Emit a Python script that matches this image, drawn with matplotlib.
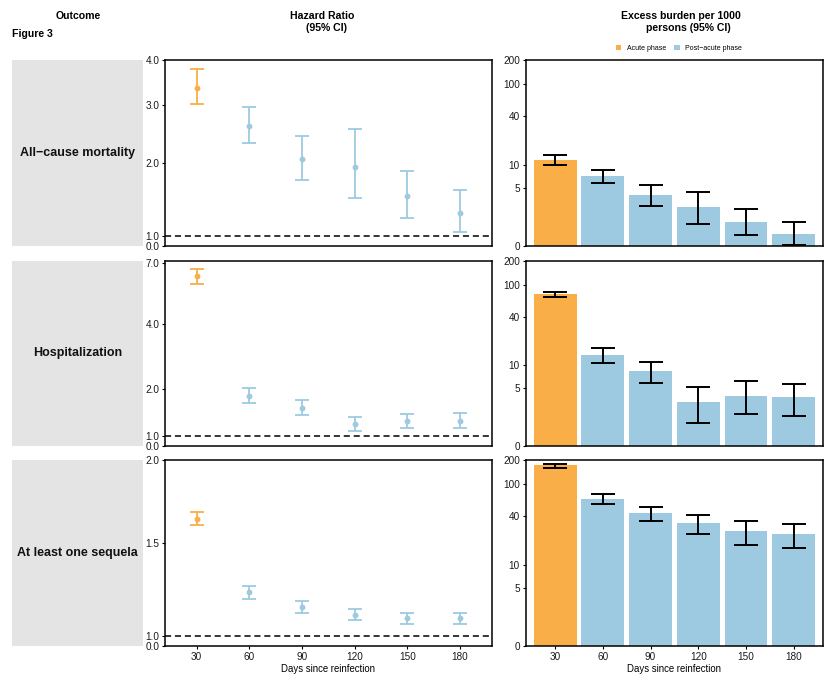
import numpy as np
import matplotlib
matplotlib.use('Agg')
import matplotlib.pyplot as plt
from matplotlib.patches import Patch

plt.rcParams['font.family'] = ['Liberation Sans', 'DejaVu Sans']

days = [30, 60, 90, 120, 150, 180]
day_labels = ['30', '60', '90', '120', '150', '180']
outcomes = ['All\u2212cause mortality', 'Hospitalization', 'At least one sequela']
phase_names = ['Acute phase', 'Post\u2212acute phase']

# hazard ratios (point, lower, upper)
hr_mortality = [3.36, 2.62, 2.05, 1.94, 1.52, 1.28]
hr_mortality_lo = [3.03, 2.32, 1.74, 1.48, 1.22, 1.04]
hr_mortality_hi = [3.78, 2.97, 2.43, 2.55, 1.88, 1.59]

hr_hosp = [6.24, 1.85, 1.57, 1.24, 1.29, 1.29]
hr_hosp_lo = [5.81, 1.68, 1.42, 1.10, 1.15, 1.15]
hr_hosp_hi = [6.63, 2.03, 1.75, 1.37, 1.44, 1.46]

hr_seq = [1.64, 1.23, 1.15, 1.11, 1.09, 1.09]
hr_seq_lo = [1.60, 1.19, 1.12, 1.08, 1.06, 1.06]
hr_seq_hi = [1.68, 1.26, 1.18, 1.14, 1.12, 1.12]

# excess burden per 1000 persons
eb_mortality = [11.4, 7.1, 4.0, 2.66, 1.46, 0.68]
eb_mortality_lo = [9.8, 5.8, 2.8, 1.34, 0.62, 0.06]
eb_mortality_hi = [13.3, 8.6, 5.5, 4.37, 2.5, 1.44]

eb_hosp = [76.6, 13.4, 8.35, 3.2, 3.98, 3.78]
eb_hosp_lo = [70.9, 10.6, 5.9, 1.43, 2.1, 1.93]
eb_hosp_hi = [82.5, 16.3, 11.05, 5.17, 6.2, 5.77]

eb_seq = [171.9, 66.3, 43.9, 33.4, 26.3, 24.1]
eb_seq_lo = [159.2, 57.5, 35.0, 24.4, 17.6, 16.3]
eb_seq_hi = [178.5, 75.7, 52.2, 42.0, 35.0, 32.5]

hr_tops = [4.0, 7.15, 2.0]
hr_ticks = [[0, 1, 2, 3, 4], [0, 1, 2, 4, 7], [0, 1, 1.5, 2]]
eb_ticks = [0, 5, 10, 40, 100, 200]

hr_rows = [(hr_mortality, hr_mortality_lo, hr_mortality_hi),
           (hr_hosp, hr_hosp_lo, hr_hosp_hi),
           (hr_seq, hr_seq_lo, hr_seq_hi)]
eb_rows = [(eb_mortality, eb_mortality_lo, eb_mortality_hi),
           (eb_hosp, eb_hosp_lo, eb_hosp_hi),
           (eb_seq, eb_seq_lo, eb_seq_hi)]

ORANGE = '#F9AE48'
BLUE = '#9ECAE1'
colors = [ORANGE] + [BLUE] * 5

W, H = 828, 684
rows_px = [(60, 245.7), (260.7, 446), (460, 646)]


def box(x0, x1, y0, y1):
    return [x0 / W, 1 - y1 / H, (x1 - x0) / W, (y1 - y0) / H]


def hr_scale(top, gap=0.057):
    # pseudo-log above 1, squeezed linear stretch down to 0
    f1 = np.arcsinh(0.5)
    g = gap * (np.arcsinh(top / 2) - f1)

    def fwd(y):
        y = np.asarray(y, float)
        return np.where(y >= 1, np.arcsinh(np.maximum(y, 1e-9) / 2), f1 - (1 - y) * g)

    def inv(t):
        t = np.asarray(t, float)
        return np.where(t >= f1, 2 * np.sinh(t), 1 - (f1 - t) / g)
    return fwd, inv


def eb_fwd(y):
    return np.arcsinh(np.asarray(y, float) / 2)


def eb_inv(t):
    return 2 * np.sinh(np.asarray(t, float))


def style(ax):
    for s in ax.spines.values():
        s.set_linewidth(1.1)
        s.set_color('black')
    ax.tick_params(length=2.5, width=0.8, labelsize=7.2, pad=1.5,
                   colors='black', labelcolor='#1a1a1a')


fig = plt.figure(figsize=(W / 100, H / 100), dpi=100)

for i in range(3):
    y0, y1 = rows_px[i]

    # strip
    sa = fig.add_axes(box(12, 143.3, y0, y1))
    sa.set_facecolor('#e4e4e4')
    sa.set_xticks([])
    sa.set_yticks([])
    for s in sa.spines.values():
        s.set_visible(False)
    sa.text(0.5, 0.5, outcomes[i], ha='center', va='center', fontsize=9,
            fontweight='bold', color='#111111', transform=sa.transAxes)

    # hazard ratio
    ax = fig.add_axes(box(165, 491.7, y0, y1))
    fwd, inv = hr_scale(hr_tops[i])
    ax.set_yscale('function', functions=(fwd, inv))
    val, lo, hi = hr_rows[i]
    for d, v, l, h, c in zip(days, val, lo, hi, colors):
        ax.errorbar([d], [v], yerr=[[v - l], [h - v]], fmt='o', color=c,
                    ms=3.2, elinewidth=1.3, capsize=5.3, capthick=1.3)
    ax.axhline(1, color='black', lw=1.1, ls=(0, (4, 2.5)))
    ax.set_ylim(0, hr_tops[i])
    ax.set_xlim(12, 198)
    ax.set_yticks(hr_ticks[i])
    ax.set_yticklabels(['%.1f' % t for t in hr_ticks[i]])
    style(ax)
    if i == 2:
        ax.set_xticks(days)
        ax.set_xticklabels(day_labels)
        ax.set_xlabel('Days since reinfection', fontsize=6.9, labelpad=1.5)
    else:
        ax.set_xticks([])

    # excess burden
    bx = fig.add_axes(box(525.5, 823.3, y0, y1))
    bx.set_yscale('function', functions=(eb_fwd, eb_inv))
    val, lo, hi = eb_rows[i]
    xs = np.arange(len(days))
    bx.bar(xs, val, width=0.9, color=colors)
    bx.errorbar(xs, val, yerr=[np.array(val) - np.array(lo), np.array(hi) - np.array(val)],
                fmt='none', ecolor='black', elinewidth=1.4, capsize=8.9, capthick=1.4)
    bx.set_ylim(0, 200)
    bx.set_xlim(-0.62, 5.62)
    bx.set_yticks(eb_ticks)
    bx.set_yticklabels([str(t) for t in eb_ticks])
    style(bx)
    if i == 2:
        bx.set_xticks(xs)
        bx.set_xticklabels(day_labels)
        bx.set_xlabel('Days since reinfection', fontsize=6.9, labelpad=1.5)
    else:
        bx.set_xticks([])

# headers
fig.text(78 / W, 1 - 16 / H, 'Outcome', ha='center', va='center', fontsize=7.6, fontweight='bold')
fig.text(11.7 / W, 1 - 34 / H, 'Figure 3', ha='left', va='center', fontsize=7.6, fontweight='bold')
fig.text(321.7 / W, 1 - 16 / H, 'Hazard Ratio', ha='center', va='center', fontsize=7.6, fontweight='bold')
fig.text(326 / W, 1 - 28 / H, '(95% CI)', ha='center', va='center', fontsize=7.6, fontweight='bold')
fig.text(681 / W, 1 - 16 / H, 'Excess burden per 1000', ha='center', va='center', fontsize=7.6, fontweight='bold')
fig.text(688 / W, 1 - 28 / H, 'persons (95% CI)', ha='center', va='center', fontsize=7.6, fontweight='bold')

handles = [Patch(facecolor=ORANGE, label=phase_names[0]),
           Patch(facecolor=BLUE, label=phase_names[1])]
fig.legend(handles=handles, loc='center', bbox_to_anchor=(679 / W, 1 - 48.5 / H),
           ncol=2, frameon=False, fontsize=5, handlelength=0.8, handleheight=0.8,
           handletextpad=0.8, columnspacing=1.2, borderpad=0)

fig.savefig('out.png', dpi=100)
